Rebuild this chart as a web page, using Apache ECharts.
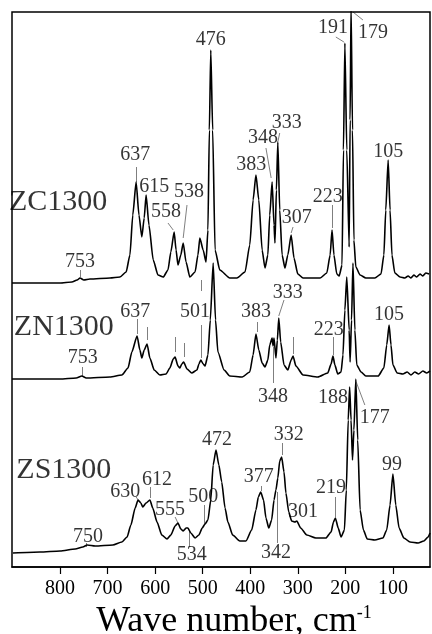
<!DOCTYPE html>
<html>
<head>
<meta charset="utf-8">
<script src="https://cdn.jsdelivr.net/npm/echarts@6/dist/echarts.min.js"></script>
<style>
  html, body { margin: 0; padding: 0; background: #fff; }
  #chart { width: 432px; height: 634px; }
</style>
</head>
<body>
<div id="chart"></div>
<script>
// Raman spectra, wave number (cm-1) and intensity (arbitrary units, traces stacked)
var zcWave = [901,842,800,775,764,758,750,737,695,674,661,653,647,640,634,628,623,619,613,604,594,583,573,567,560,556,552,546,541,535,527,516,510,506,499,493,489,486,483,479,474,464,443,428,411,401,394,388,382,375,369,363,359,354,350,348,345,342,338,333,327,321,314,308,300,289,253,239,232,228,224,218,213,207,204,201,197,192,190,188,185,182,178,169,157,138,125,119,115,110,106,102,96,85,75,68,62,56,50,43,37,31,24];
var zcInt  = [284,284,284,285,287,289,287,288,289,290,295,312,352,385,352,330,349,372,342,307,292,290,297,315,335,317,302,312,324,305,290,295,312,329,317,305,337,437,517,437,317,297,289,289,295,322,367,392,367,317,299,312,352,385,342,324,377,425,357,312,299,312,332,309,293,289,289,294,312,337,312,293,291,302,417,524,417,320,447,562,437,327,300,292,289,289,293,312,357,407,357,312,294,290,289,291,289,292,290,293,291,294,293];

var znWave = [901,800,766,754,745,695,670,657,649,638,632,628,623,617,611,602,590,577,569,562,558,552,548,544,540,533,523,512,508,504,499,495,489,484,478,473,468,455,443,417,401,394,388,382,375,369,363,359,354,352,350,346,343,340,336,329,321,314,310,304,289,258,237,230,226,222,216,209,205,201,197,192,190,187,184,180,176,167,157,131,119,113,108,104,100,91,79,70,62,54,46,37,29,22];
var znInt  = [188,188,189,191,189,190,192,199,215,231,217,209,217,223,209,197,192,193,199,208,210,201,199,203,205,198,194,197,203,207,203,201,212,247,304,247,215,197,191,190,195,212,233,217,204,200,207,222,229,221,229,209,227,249,225,202,197,207,211,201,192,190,194,203,211,202,193,195,212,257,290,237,205,247,304,237,202,195,191,191,199,222,242,222,202,194,193,195,192,195,193,196,194,196];

var zsWave = [899,842,800,768,752,743,726,689,670,659,651,642,636,630,626,619,611,605,596,586,575,567,558,552,546,541,535,531,525,516,508,501,495,489,483,478,472,466,460,453,447,437,422,409,397,388,383,378,372,367,361,355,350,346,342,338,334,329,325,319,313,306,302,294,281,262,241,230,225,221,215,209,202,198,194,191,188,185,182,178,174,169,162,154,138,121,113,106,100,94,87,77,64,47,35,26,22];
var zsInt  = [14,15,16,18,20,22,21,22,25,30,42,59,67,64,60,64,67,59,45,32,28,32,41,44,38,36,39,39,34,29,32,39,43,47,67,102,117,102,85,59,45,32,26,26,37,57,70,75,67,49,39,47,67,77,89,106,110,95,74,55,46,45,46,39,32,29,29,35,45,49,39,30,37,77,147,180,147,107,137,188,127,57,37,28,27,29,37,62,93,62,39,29,25,24,26,30,34];

var tickValues = [800, 700, 600, 500, 400, 300, 200, 100];

// peak labels: text, wave number, intensity
var zcLabels = [['753',758,305],['637',642,412],['615',602,380],['558',577,355],['538',529,375],['476',483,527],['383',398,402],['348',373,429],['333',323,444],['307',302,349],['223',237,370],['191',226,539],['179',142,534],['105',110,415]];
var znLabels = [['753',752,209],['637',642,255],['501',516,255],['383',388,255],['333',321,274],['348',352,170],['223',235,237],['105',108,252]];
var zsLabels = [['750',741,30],['630',663,75],['612',596,87],['555',569,57],['500',499,70],['534',523,12],['472',470,127],['377',382,90],['332',319,132],['342',346,14],['301',289,55],['219',230,79],['188',226,169],['177',138,149],['99',102,102]];

// leader lines from labels to peaks
var leaders = [
  [758,297,758,290],[640,400,640,385],[573,344,562,337],[533,362,541,329],[367,419,356,389],[338,434,342,425],[310,340,314,334],[228,362,228,339],[220,530,203,525],[184,555,163,547],
  [754,200,754,190],[638,248,638,233],[617,240,617,227],[558,230,558,215],[539,224,539,210],[504,242,504,209],[504,287,504,276],[386,245,386,235],[329,267,340,251],[352,220,352,184],[310,230,310,213],[226,230,226,212],
  [745,24,745,20],[640,70,634,66],[611,80,611,69],[558,50,552,44],[497,62,497,43],[529,20,529,37],[377,81,377,76],[333,124,333,112],[344,24,344,75],[222,70,222,50],[178,186,159,162]
];

var sampleNames = [['ZC1300',804,365],['ZN1300',792,240],['ZS1300',792,97]];

var serif = 'Liberation Serif';

function zip(w, v) {
  return w.map(function (x, i) { return [x, v[i]]; });
}

function spectrum(name, w, v) {
  return {
    name: name,
    type: 'line',
    data: zip(w, v),
    symbol: 'none',
    smooth: 0.2,
    smoothMonotone: 'x',
    clip: true,
    lineStyle: { color: '#000', width: 1.6 },
    silent: true
  };
}

function textSeries(rows, size) {
  return {
    type: 'scatter',
    symbolSize: 0,
    silent: true,
    data: rows.map(function (r) { return [r[1], r[2], r[0]]; }),
    label: {
      show: true,
      position: 'inside',
      formatter: function (p) { return p.value[2]; },
      fontFamily: serif,
      fontSize: size,
      color: '#000',
      textBorderWidth: 0
    }
  };
}

var chart = echarts.init(document.getElementById('chart'));
chart.setOption({
  animation: false,
  backgroundColor: '#fff',
  grid: {
    left: 12, right: 2, top: 12, bottom: 67,
    outerBoundsMode: 'none',
    containLabel: false,
    show: true, borderColor: '#000', borderWidth: 1.5
  },
  xAxis: {
    type: 'value',
    inverse: true,
    min: 22,
    max: 901,
    splitLine: { show: false },
    axisLine: { lineStyle: { color: '#000', width: 1.5 } },
    axisTick: { show: true, customValues: tickValues, length: 7, lineStyle: { color: '#000', width: 1.2 } },
    axisLabel: { customValues: tickValues, fontFamily: serif, fontSize: 20, color: '#000', margin: 12 },
    name: '{t|Wave number, cm}{s|-1}',
    nameLocation: 'middle',
    nameGap: 30,
    nameTextStyle: {
      padding: [0, 0, 0, 26],
      rich: {
        t: { fontFamily: serif, fontSize: 36, color: '#000' },
        s: { fontFamily: serif, fontSize: 18, color: '#000', verticalAlign: 'top' }
      }
    }
  },
  yAxis: { type: 'value', min: 0, max: 555, show: false },
  series: [
    spectrum('ZC1300', zcWave, zcInt),
    spectrum('ZN1300', znWave, znInt),
    spectrum('ZS1300', zsWave, zsInt),
    {
      type: 'lines',
      coordinateSystem: 'cartesian2d',
      silent: true,
      lineStyle: { color: '#000', width: 1 },
      data: leaders.map(function (l) { return { coords: [[l[0], l[1]], [l[2], l[3]]] }; })
    },
    textSeries(zcLabels, 20),
    textSeries(znLabels, 20),
    textSeries(zsLabels, 20),
    textSeries(sampleNames, 30)
  ]
});
</script>
</body>
</html>
